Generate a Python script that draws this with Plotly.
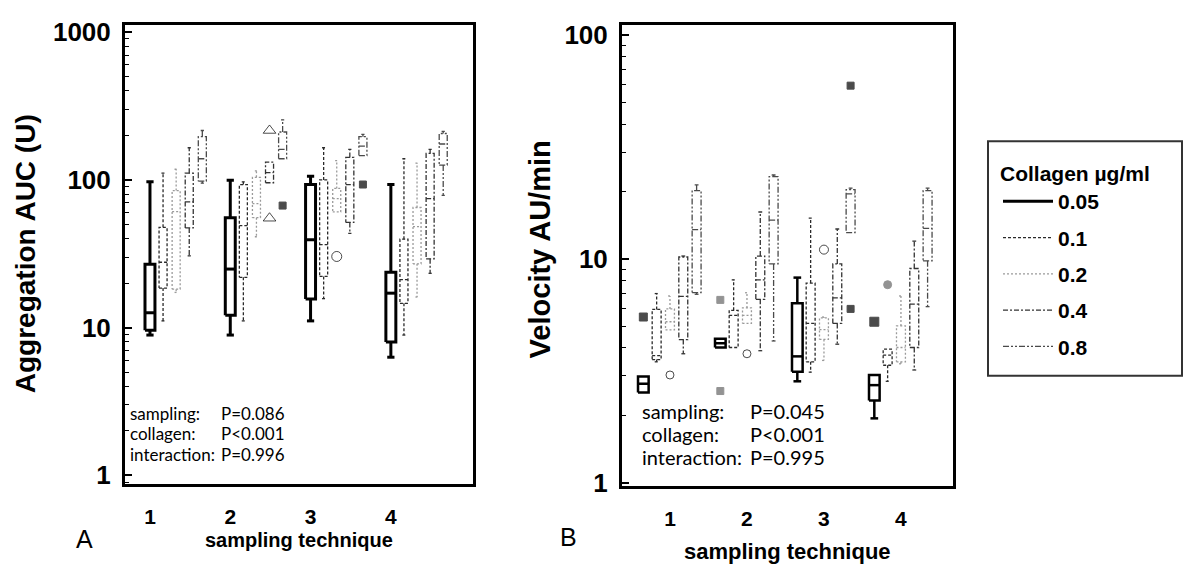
import plotly.graph_objects as go

# Collagen concentrations (µg/ml) and sampling techniques
concentrations = ["0.05", "0.1", "0.2", "0.4", "0.8"]
techniques = [1, 2, 3, 4]

# Aggregation AUC (U) box statistics: rows = concentration, columns = technique 1..4
auc_lower = [[8.9, 8.9, 11.1, 6.3],
             [11.1, 11.1, 15.7, 8.9],
             [17.3, 41.2, 60.7, 16.1],
             [30.6, 95.6, 43.4, 23.3],
             [95, 139, 146, 78.5]]
auc_q1 = [[9.6, 12.1, 15.6, 8.0],
          [18.5, 21.9, 22.2, 14.6],
          [18.2, 55.5, 60.7, 27],
          [47.3, 95.6, 51.5, 29.2],
          [98, 139, 146, 126]]
auc_median = [[12.6, 24.9, 39.3, 17.1],
              [27.7, 49, 36.4, 21.1],
              [61, 69, 74.6, 48.3],
              [71, 112, 93, 74.6],
              [139, 161, 169, 175]]
auc_q3 = [[26.8, 55.5, 93, 23.7],
          [47.7, 93, 100, 39.7],
          [84.6, 104, 87.5, 65],
          [111, 132, 142, 151],
          [196, 211, 196, 206]]
auc_upper = [[97, 99.6, 106, 93],
             [111, 97, 165, 139],
             [118, 115, 135, 130],
             [165, 132, 161, 161],
             [216, 255, 203, 213]]

# Aggregation AUC outliers
auc_out_technique = [2, 2, 2, 3, 3]
auc_out_conc = [3, 3, 4, 2, 4]
auc_out_value = [216, 55, 67, 30.3, 93]
auc_out_symbol = ["triangle-up-open", "triangle-up-open", "square", "circle-open", "square"]
auc_out_color = ["black", "black", "black", "black", "black"]
auc_out_size = [11, 11, 7, 10, 7]

# Velocity (AU/min) box statistics
vel_lower = [[2.53, 4.02, 2.84, 1.94],
             [3.47, 4.02, 3.12, 2.84],
             [4.82, 5.15, 3.52, 3.4],
             [3.77, 3.89, 4.16, 3.19],
             [6.95, 4.3, 13.1, 6.12]]
vel_q1 = [[2.53, 4.02, 3.13, 2.33],
          [3.55, 4.02, 3.47, 3.35],
          [4.82, 5.15, 4.37, 3.47],
          [4.36, 6.6, 5.15, 4.02],
          [7.07, 9.5, 13.1, 9.8]]
vel_median = [[2.77, 4.2, 3.67, 2.73],
              [3.7, 5.6, 5.15, 3.72],
              [5.24, 5.6, 4.83, 4.02],
              [6.8, 8.06, 6.7, 6.28],
              [13.5, 14.9, 19.5, 13.7]]
vel_q3 = [[2.98, 4.4, 6.33, 3.03],
          [5.95, 5.89, 7.8, 3.95],
          [5.98, 6.04, 5.45, 5.02],
          [10.2, 10.3, 9.5, 9.06],
          [20.2, 23.3, 20.4, 20.2]]
vel_upper = [[2.98, 4.4, 8.25, 3.03],
             [7.0, 8.06, 15.2, 3.95],
             [6.83, 7.06, 5.5, 6.83],
             [10.3, 16.2, 13.6, 12.0],
             [21.4, 23.7, 20.7, 20.7]]

# Velocity outliers
vel_out_technique = [1, 1, 2, 2, 2, 3, 3, 3, 4, 4]
vel_out_conc = [0, 2, 0, 0, 2, 2, 4, 4, 0, 1]
vel_out_value = [5.5, 3.03, 6.56, 2.57, 3.77, 11.0, 59.4, 5.98, 5.24, 7.67]
vel_out_symbol = ["square", "circle-open", "square", "square", "circle-open",
                  "circle-open", "square", "square", "square", "circle"]
vel_out_color = ["black", "black", "#666666", "#666666", "black",
                 "black", "black", "black", "black", "#666666"]
vel_out_size = [8, 8, 7, 7, 8, 9, 7, 7, 9, 8]

# P-values of the two-way analysis
stats_labels = ["sampling:", "collagen:", "interaction:"]
auc_pvalues = ["P=0.086", "P<0.001", "P=0.996"]
vel_pvalues = ["P=0.045", "P<0.001", "P=0.995"]

# Line style for each concentration
line_styles = [
    dict(color="black", width=3, dash="solid"),
    dict(color="#2a2a2a", width=1.3, dash="3px,2px"),
    dict(color="#9a9a9a", width=1.3, dash="2px,2px"),
    dict(color="#333333", width=1.3, dash="5px,2px,2px,2px"),
    dict(color="#4a4a4a", width=1.3, dash="6px,2px,2px,2px,2px,2px"),
]

W, H = 1184, 580


def box_path(xc, hw, cw, lo, q1, med, q3, hi):
    xs, ys = [], []
    xs += [xc - hw, xc + hw, xc + hw, xc - hw, xc - hw, None]
    ys += [q1, q1, q3, q3, q1, None]
    xs += [xc - hw, xc + hw, None]
    ys += [med, med, None]
    if hi > q3:
        xs += [xc, xc, None, xc - cw, xc + cw, None]
        ys += [q3, hi, None, hi, hi, None]
    if lo < q1:
        xs += [xc, xc, None, xc - cw, xc + cw, None]
        ys += [q1, lo, None, lo, lo, None]
    return xs, ys


def box_x(panel, tech, c):
    if panel == 0:
        return tech + c * 0.163
    return tech + (c - 2) * 0.173


fig = go.Figure()

panels = [
    (auc_lower, auc_q1, auc_median, auc_q3, auc_upper, "x", "y"),
    (vel_lower, vel_q1, vel_median, vel_q3, vel_upper, "x2", "y2"),
]
for p, (lo, q1, md, q3, hi, xa, ya) in enumerate(panels):
    for c, name in enumerate(concentrations):
        xs, ys = [], []
        for t_i, tech in enumerate(techniques):
            xc = box_x(p, tech, c)
            if p == 0:
                hw = 0.062 if c == 0 else 0.05
                cw = 0.045 if c == 0 else 0.02
            else:
                hw = 0.069 if c == 0 else 0.058
                cw = 0.05 if c == 0 else 0.025
            bx, by = box_path(xc, hw, cw, lo[c][t_i], q1[c][t_i], md[c][t_i],
                              q3[c][t_i], hi[c][t_i])
            xs += bx
            ys += by
        style = dict(line_styles[c])
        if p == 1 and c == 0:
            style["width"] = 2.5
        fig.add_trace(go.Scatter(
            x=xs, y=ys, mode="lines", line=style, name=name,
            legendgroup=name, showlegend=(p == 0),
            xaxis=xa, yaxis=ya, hoverinfo="skip",
        ))

fig.add_trace(go.Scatter(
    x=[box_x(0, t, c) for t, c in zip(auc_out_technique, auc_out_conc)],
    y=auc_out_value, mode="markers", showlegend=False, xaxis="x", yaxis="y",
    marker=dict(symbol=auc_out_symbol, color=auc_out_color, size=auc_out_size,
                line=dict(color="black", width=1)),
))
fig.add_trace(go.Scatter(
    x=[box_x(1, t, c) for t, c in zip(vel_out_technique, vel_out_conc)],
    y=vel_out_value, mode="markers", showlegend=False, xaxis="x2", yaxis="y2",
    marker=dict(symbol=vel_out_symbol, color=vel_out_color, size=vel_out_size,
                line=dict(color=vel_out_color, width=1)),
))

tick_font = dict(family="Liberation Sans", size=26, color="black", weight="bold")
xtick_font = dict(family="Liberation Sans", size=21, color="black", weight="bold")
axis_common = dict(showline=True, mirror=True, linewidth=3, linecolor="black",
                   showgrid=False, zeroline=False)

fig.update_layout(
    width=W, height=H,
    margin=dict(l=0, r=0, t=0, b=0),
    paper_bgcolor="white", plot_bgcolor="white",
    xaxis=dict(domain=[125 / W, 473 / W], range=[0.689, 5.023],
               tickvals=techniques, ticktext=[str(t) for t in techniques],
               ticks="", tickfont=xtick_font, ticklabelstandoff=12,
               **axis_common),
    yaxis=dict(domain=[1 - 493 / H, 1 - 18 / H], type="log", range=[-0.059, 3.046],
               tickvals=[1, 10, 100, 1000], ticktext=["1", "10", "100", "1000"],
               ticks="inside", ticklen=7, tickwidth=1.5, tickcolor="black",
               minor=dict(ticks="inside", ticklen=4, tickwidth=1, tickcolor="black",
                          dtick="D1", showgrid=False),
               tickfont=tick_font, ticklabelstandoff=6, **axis_common),
    xaxis2=dict(domain=[622 / W, 953 / W], range=[0.377, 4.676], anchor="y2",
                tickvals=techniques, ticktext=[str(t) for t in techniques],
                ticks="", tickfont=xtick_font, ticklabelstandoff=12,
                **axis_common),
    yaxis2=dict(domain=[1 - 495 / H, 1 - 18 / H], type="log", range=[-0.014, 2.043],
                anchor="x2", tickvals=[1, 10, 100], ticktext=["1", "10", "100"],
                ticks="inside", ticklen=7, tickwidth=1.5, tickcolor="black",
                minor=dict(ticks="inside", ticklen=4, tickwidth=1, tickcolor="black",
                           dtick="D1", showgrid=False),
                tickfont=tick_font, ticklabelstandoff=6, **axis_common),
    legend=dict(
        x=998 / W, y=1 - 151 / H, xanchor="left", yanchor="top",
        bgcolor="rgba(0,0,0,0)", borderwidth=0,
        title=dict(text="Collagen µg/ml",
                   font=dict(family="Liberation Sans", size=21, color="black",
                             weight="bold")),
        font=dict(family="Liberation Sans", size=21, color="black", weight="bold"),
        itemwidth=50, tracegroupgap=6,
    ),
    showlegend=True,
)

# Legend frame
fig.add_shape(type="rect", xref="paper", yref="paper",
              x0=988 / W, x1=1182 / W, y0=1 - 381 / H, y1=1 - 138 / H,
              line=dict(color="#333333", width=2), fillcolor="rgba(0,0,0,0)")

annos = []
title_font = dict(family="Liberation Sans", size=28, color="black", weight="bold")
annos.append(dict(text="Aggregation AUC (U)", x=25 / W, y=1 - 255 / H, xref="paper",
                  yref="paper", textangle=-90, showarrow=False, font=title_font,
                  xanchor="center", yanchor="middle"))
annos.append(dict(text="Velocity AU/min", x=540 / W, y=1 - 250 / H, xref="paper",
                  yref="paper", textangle=-90, showarrow=False,
                  font=dict(title_font, size=29),
                  xanchor="center", yanchor="middle"))
annos.append(dict(text="sampling technique", x=299 / W, y=1 - 551 / H, xref="paper",
                  yref="paper", showarrow=False, font=dict(title_font, size=20),
                  xanchor="center", yanchor="middle"))
annos.append(dict(text="sampling technique", x=787 / W, y=1 - 563 / H, xref="paper",
                  yref="paper", showarrow=False, font=dict(title_font, size=22),
                  xanchor="center", yanchor="middle"))
letter_font = dict(family="Liberation Sans", size=25, color="black")
annos.append(dict(text="A", x=84 / W, y=1 - 550 / H, xref="paper", yref="paper",
                  showarrow=False, font=letter_font, xanchor="center", yanchor="middle"))
annos.append(dict(text="B", x=568 / W, y=1 - 548 / H, xref="paper", yref="paper",
                  showarrow=False, font=letter_font, xanchor="center", yanchor="middle"))

stat_font_a = dict(family="Lato", size=17, color="black")
stat_font_b = dict(family="Lato", size=20, color="black")
for i, (lab, pa, pb) in enumerate(zip(stats_labels, auc_pvalues, vel_pvalues)):
    ya = 1 - (420 + i * 21) / H
    yb = 1 - (417 + i * 24) / H
    annos.append(dict(text=lab, x=128 / W, y=ya, xref="paper", yref="paper",
                      showarrow=False, font=stat_font_a, xanchor="left", yanchor="middle"))
    annos.append(dict(text=pa, x=219 / W, y=ya, xref="paper", yref="paper",
                      showarrow=False, font=stat_font_a, xanchor="left", yanchor="middle"))
    annos.append(dict(text=lab, x=640 / W, y=yb, xref="paper", yref="paper",
                      showarrow=False, font=stat_font_b, xanchor="left", yanchor="middle"))
    annos.append(dict(text=pb, x=748 / W, y=yb, xref="paper", yref="paper",
                      showarrow=False, font=stat_font_b, xanchor="left", yanchor="middle"))

fig.update_layout(annotations=annos)

fig.write_html("out.html")
